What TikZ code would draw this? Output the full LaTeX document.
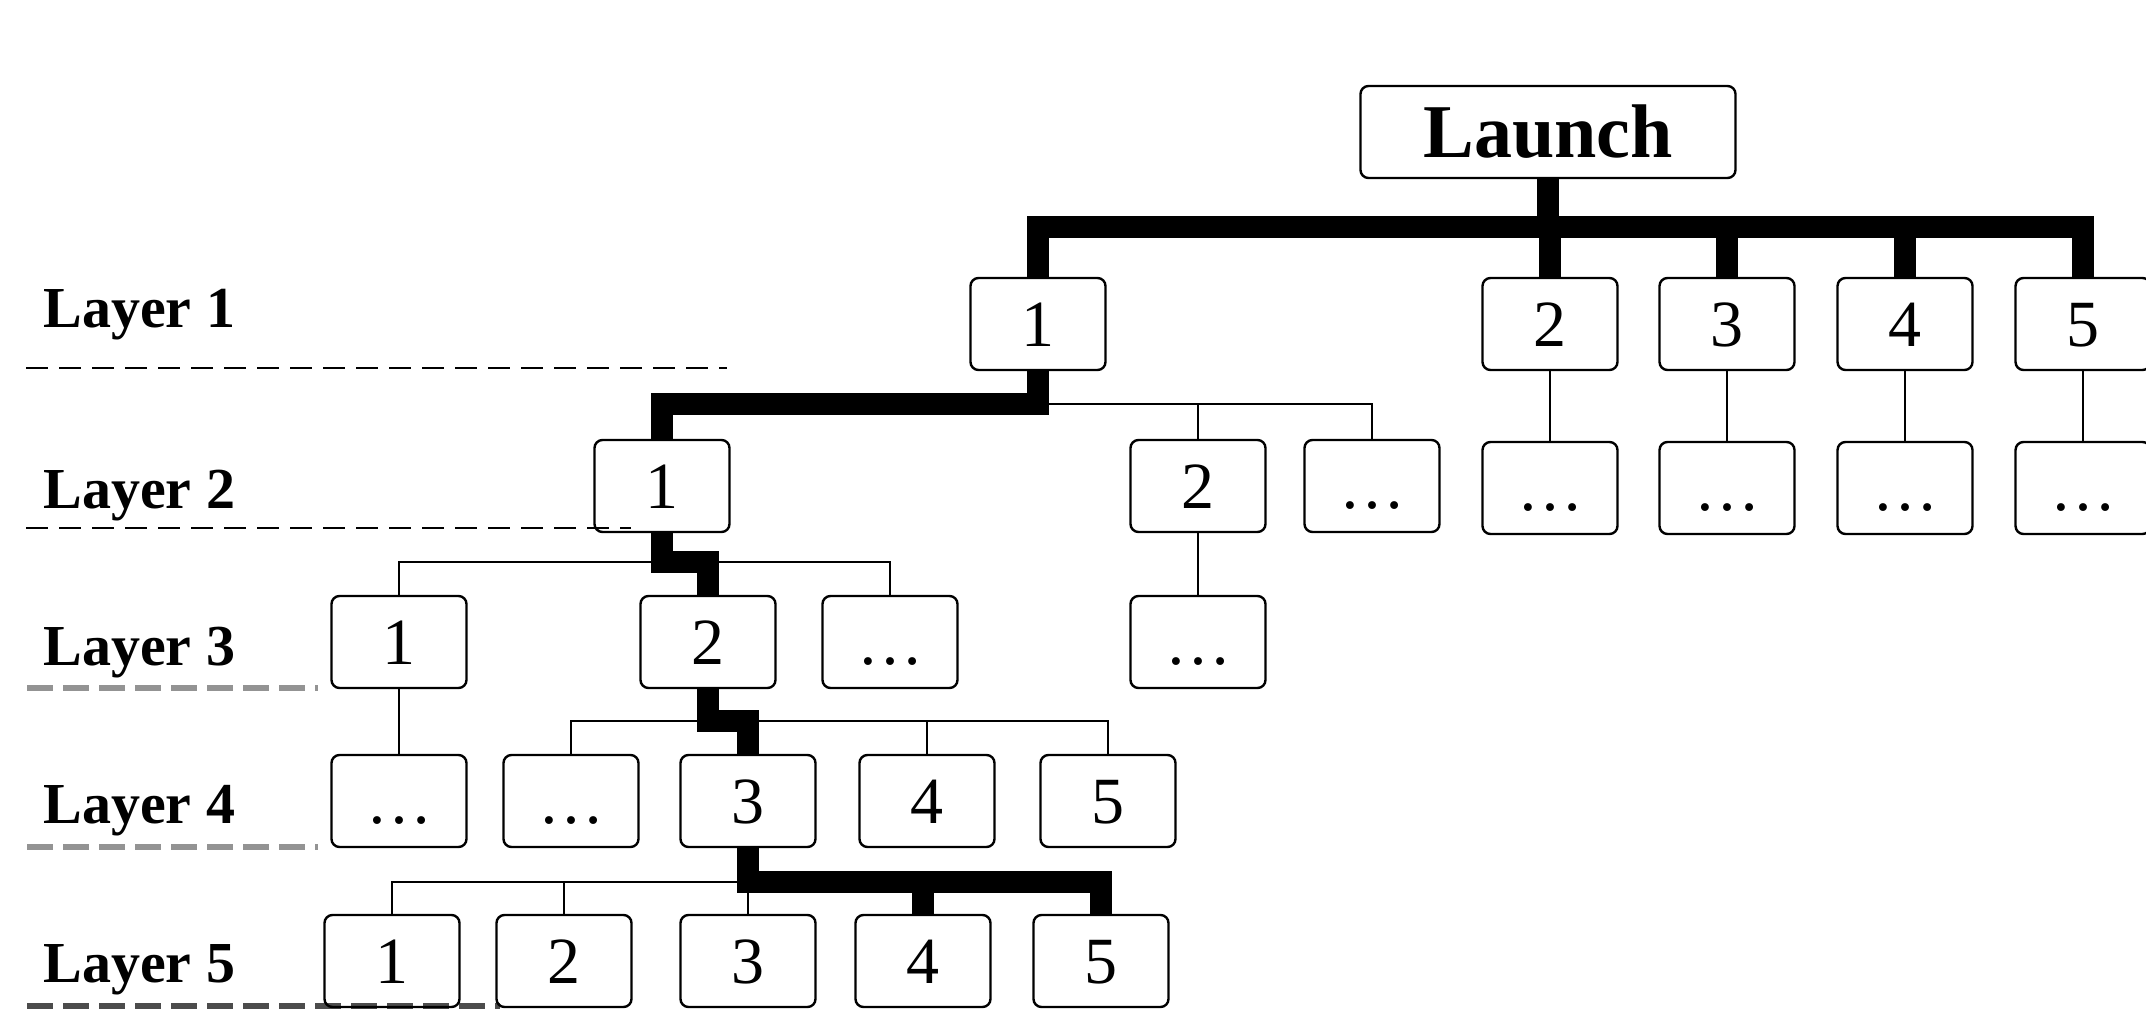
\documentclass[tikz,border=0pt]{standalone}
\usepackage{fontspec}
\setmainfont{Liberation Serif}
\begin{document}
\begin{tikzpicture}[x=0.5pt,y=-0.5pt,
  box/.style={draw=black,line width=1.2pt,rounded corners=4pt,minimum width=67.5pt,minimum height=46pt,inner sep=0pt,text height=22.3pt,text depth=0pt,font=\fontsize{33}{33}\selectfont},
  launchbox/.style={box,minimum width=187.5pt,text height=26pt,font=\fontsize{38}{38}\selectfont\bfseries},
  layerlabel/.style={anchor=base west,inner sep=0pt,font=\fontsize{29}{29}\selectfont\bfseries},
  thickline/.style={line width=11pt,line join=miter,line cap=butt},
  thinline/.style={line width=1.4pt},
  blackdash/.style={line width=1.3pt,dash pattern=on 11pt off 5.5pt},
  graydash/.style={line width=3pt,draw=gray!85,dash pattern=on 13pt off 5pt},
  darkdash/.style={line width=3pt,draw=black!70,dash pattern=on 13pt off 5pt}]
\useasboundingbox (0,0) rectangle (2146,1010);
% layer labels and separators
\node[layerlabel] (lab1) at (43,328) {Layer 1};
\node[layerlabel] (lab2) at (43,508) {Layer 2};
\node[layerlabel] (lab3) at (43,665) {Layer 3};
\node[layerlabel] (lab4) at (43,823) {Layer 4};
\node[layerlabel] (lab5) at (43,982) {Layer 5};
\draw[blackdash] (26,368) -- (727,368);
\draw[blackdash] (26,528) -- (631,528);
\draw[graydash] (27,688) -- (318,688);
\draw[graydash] (27,847) -- (318,847);
\draw[darkdash] (27,1006) -- (500,1006);
% nodes
\node[launchbox] (launch) at (1548,132) {Launch};
\node[box] (n11) at (1038,324) {1};
\node[box] (n12) at (1550,324) {2};
\node[box] (n13) at (1727,324) {3};
\node[box] (n14) at (1905,324) {4};
\node[box] (n15) at (2083,324) {5};
\node[box] (n21) at (662,486) {1};
\node[box] (n22) at (1198,486) {2};
\node[box] (n23) at (1372,486) {…};
\node[box] (n24) at (1550,488) {…};
\node[box] (n25) at (1727,488) {…};
\node[box] (n26) at (1905,488) {…};
\node[box] (n27) at (2083,488) {…};
\node[box] (n31) at (399,642) {1};
\node[box] (n32) at (708,642) {2};
\node[box] (n33) at (890,642) {…};
\node[box] (n34) at (1198,642) {…};
\node[box] (n41) at (399,801) {…};
\node[box] (n42) at (571,801) {…};
\node[box] (n43) at (748,801) {3};
\node[box] (n44) at (927,801) {4};
\node[box] (n45) at (1108,801) {5};
\node[box] (n51) at (392,961) {1};
\node[box] (n52) at (564,961) {2};
\node[box] (n53) at (748,961) {3};
\node[box] (n54) at (923,961) {4};
\node[box] (n55) at (1101,961) {5};
% bus levels
\coordinate (b1) at (1548,227);
\coordinate (b2) at (0,404);
\coordinate (b3) at (0,562);
\coordinate (b4) at (0,721);
\coordinate (b5) at (0,882);
% launch -> layer 1
\draw[thickline] (launch.south) -- (b1);
\draw[thickline] (n11.north) |- (b1) -| (n15.north);
\draw[thickline] (n12.north) -- (n12.north |- b1);
\draw[thickline] (n13.north) -- (n13.north |- b1);
\draw[thickline] (n14.north) -- (n14.north |- b1);
% layer 1 -> layer 2
\draw[thinline] (n11.south |- b2) -| (n23.north);
\draw[thinline] (n22.north) -- (n22.north |- b2);
\draw[thickline] (n11.south) |- (n21.north |- b2) -- (n21.north);
\draw[thinline] (n12.south) -- (n24.north);
\draw[thinline] (n13.south) -- (n25.north);
\draw[thinline] (n14.south) -- (n26.north);
\draw[thinline] (n15.south) -- (n27.north);
% layer 2 -> layer 3
\draw[thinline] (n31.north) |- (n33.north |- b3) -- (n33.north);
\draw[thickline] (n21.south) -- (n21.south |- b3) -- (n32.north |- b3) -- (n32.north);
\draw[thinline] (n22.south) -- (n34.north);
% layer 3 -> layer 4
\draw[thinline] (n42.north) |- (n45.north |- b4) -- (n45.north);
\draw[thinline] (n44.north) -- (n44.north |- b4);
\draw[thickline] (n32.south) -- (n32.south |- b4) -- (n43.north |- b4) -- (n43.north);
\draw[thinline] (n31.south) -- (n41.north);
% layer 4 -> layer 5
\draw[thinline] (n51.north) |- (n53.north |- b5) -- (n53.north);
\draw[thinline] (n52.north) -- (n52.north |- b5);
\draw[thickline] (n43.south) |- (n55.north |- b5) -- (n55.north);
\draw[thickline] (n54.north) -- (n54.north |- b5);
\end{tikzpicture}
\end{document}
